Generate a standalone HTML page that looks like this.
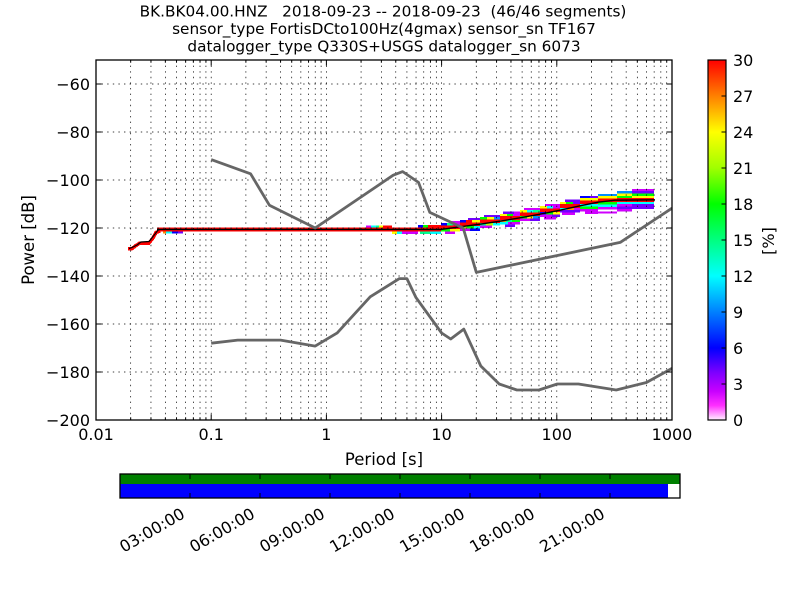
<!DOCTYPE html>
<html><head><meta charset="utf-8">
<style>
html,body{margin:0;padding:0;background:#fff;}
svg{display:block;font-family:"DejaVu Sans","Liberation Sans",sans-serif;}
</style></head>
<body>
<svg width="800" height="600" viewBox="0 0 800 600" xmlns="http://www.w3.org/2000/svg">
<defs>
<clipPath id="ax"><rect x="96" y="60" width="576" height="360"/></clipPath>
<linearGradient id="cb" x1="0" y1="0" x2="0" y2="1">
<stop offset="0" stop-color="#ff0000"/>
<stop offset="0.1" stop-color="#ff8000"/>
<stop offset="0.2" stop-color="#ffff00"/>
<stop offset="0.3" stop-color="#a0ff00"/>
<stop offset="0.4" stop-color="#00ff00"/>
<stop offset="0.5" stop-color="#00ff80"/>
<stop offset="0.6" stop-color="#00ffff"/>
<stop offset="0.7" stop-color="#0080ff"/>
<stop offset="0.8" stop-color="#0000ff"/>
<stop offset="0.87" stop-color="#8000ff"/>
<stop offset="0.92" stop-color="#c800ff"/>
<stop offset="0.96" stop-color="#ff30ff"/>
<stop offset="1" stop-color="#fff0ff"/>
</linearGradient>
</defs>
<rect width="800" height="600" fill="#fff"/>

<!-- Title -->
<g font-size="15.3" text-anchor="middle" fill="#000">
<text x="383" y="16.5" xml:space="preserve">BK.BK04.00.HNZ   2018-09-23 -- 2018-09-23  (46/46 segments)</text>
<text x="384" y="34">sensor_type FortisDCto100Hz(4gmax) sensor_sn TF167</text>
<text x="384" y="51.5">datalogger_type Q330S+USGS datalogger_sn 6073</text>
</g>

<!-- histogram -->
<g clip-path="url(#ax)" shape-rendering="crispEdges">
<!-- short period stair -->
<path d="M128,248.6 L132,248.6 L136,245.5 L140,243 L149,243 L153,238 L156,232.5 L160,231" fill="none" stroke="#ff0000" stroke-width="3.5"/>
<!-- main band -->
<rect x="157" y="227.4" width="284" height="4" fill="#ff0000"/>
<!-- small cells -->
<rect x="163" y="231.4" width="3" height="2" fill="#ff8c00"/>
<rect x="166" y="231.4" width="6" height="2" fill="#00ffff"/>
<rect x="172" y="231.4" width="6" height="2" fill="#0000ff"/>
<rect x="178" y="231.4" width="5" height="2" fill="#7000ff"/>
<rect x="366" y="225.6" width="5" height="2" fill="#d000ff"/>
<rect x="371" y="225.6" width="5" height="2" fill="#00ffff"/>
<rect x="376" y="225.6" width="3" height="2" fill="#00ff90"/>
<rect x="379" y="225.6" width="4" height="2" fill="#ffff00"/>
<rect x="383" y="225.6" width="9" height="2" fill="#ff0000"/>
<rect x="392" y="231.4" width="5" height="2.4" fill="#ffff00"/>
<rect x="397" y="231.4" width="5" height="2.4" fill="#00ffff"/>
<rect x="402" y="231.4" width="16" height="2.4" fill="#d000ff"/>
<rect x="418" y="225" width="5" height="2.4" fill="#0000ff"/>
<rect x="423" y="225" width="5" height="2.4" fill="#00ff00"/>
<rect x="428" y="225" width="13" height="2.4" fill="#ff0000"/>
<rect x="420" y="231.4" width="10" height="2.4" fill="#00ff90"/>
<rect x="430" y="231.4" width="11" height="2.4" fill="#00ffff"/>

<!-- Col A 441-460 -->
<rect x="441" y="225.6" width="19" height="3.6" fill="#ff0000"/>
<rect x="441" y="223.2" width="6" height="2.4" fill="#0000ff"/>
<rect x="447" y="223.2" width="6" height="2.4" fill="#00ff90"/>
<rect x="453" y="223.2" width="7" height="2.4" fill="#d000ff"/>
<rect x="450" y="220.8" width="10" height="2.4" fill="#d000ff"/>
<rect x="441" y="229.2" width="9" height="2.4" fill="#00ff00"/>
<rect x="450" y="229.2" width="10" height="2.4" fill="#ffff00"/>
<rect x="445" y="231.6" width="10" height="2.4" fill="#d000ff"/>
<!-- Col B 460-480 -->
<rect x="460" y="222.6" width="20" height="3.6" fill="#ff0000"/>
<rect x="460" y="220.2" width="6" height="2.4" fill="#0000ff"/>
<rect x="466" y="220.2" width="6" height="2.4" fill="#ff0000"/>
<rect x="472" y="220.2" width="8" height="2.4" fill="#ffff00"/>
<rect x="468" y="217.8" width="12" height="2.4" fill="#7000ff"/>
<rect x="460" y="226.2" width="7" height="2.4" fill="#b0ff00"/>
<rect x="467" y="226.2" width="7" height="2.4" fill="#00ff00"/>
<rect x="474" y="226.2" width="6" height="2.4" fill="#00ffff"/>
<rect x="460" y="228.6" width="10" height="2.4" fill="#d000ff"/>
<rect x="470" y="228.6" width="10" height="2.4" fill="#0000ff"/>
<!-- Col C 480-500 -->
<rect x="480" y="219.6" width="20" height="3.6" fill="#ff0000"/>
<rect x="480" y="217.2" width="7" height="2.4" fill="#00ff00"/>
<rect x="487" y="217.2" width="7" height="2.4" fill="#ffff00"/>
<rect x="494" y="217.2" width="6" height="2.4" fill="#0090ff"/>
<rect x="484" y="214.8" width="16" height="2.4" fill="#7000ff"/>
<rect x="480" y="223.2" width="6" height="2.4" fill="#00ff90"/>
<rect x="486" y="223.2" width="7" height="2.4" fill="#b0ff00"/>
<rect x="493" y="223.2" width="7" height="2.4" fill="#00ffff"/>
<rect x="480" y="225.6" width="12" height="2.4" fill="#d000ff"/>
<!-- Col D 500-520 -->
<rect x="500" y="216.2" width="20" height="3.6" fill="#ff0000"/>
<rect x="500" y="213.8" width="7" height="2.4" fill="#ffff00"/>
<rect x="507" y="213.8" width="6" height="2.4" fill="#00ff00"/>
<rect x="513" y="213.8" width="7" height="2.4" fill="#d000ff"/>
<rect x="503" y="211.4" width="11" height="2.4" fill="#7000ff"/>
<rect x="514" y="211.4" width="6" height="2.4" fill="#d000ff"/>
<rect x="500" y="219.8" width="6" height="2.4" fill="#ff8c00"/>
<rect x="506" y="219.8" width="6" height="2.4" fill="#00ff90"/>
<rect x="512" y="219.8" width="8" height="2.4" fill="#00ff00"/>
<rect x="500" y="222.2" width="8" height="2.4" fill="#00ffff"/>
<rect x="508" y="222.2" width="12" height="2.4" fill="#d000ff"/>
<rect x="505" y="224.6" width="10" height="2.4" fill="#7000ff"/>
<!-- Col E 520-540 -->
<rect x="520" y="212.6" width="20" height="3.6" fill="#ff0000"/>
<rect x="520" y="210.2" width="7" height="2.4" fill="#ffff00"/>
<rect x="527" y="210.2" width="6" height="2.4" fill="#00ffff"/>
<rect x="533" y="210.2" width="7" height="2.4" fill="#00ff90"/>
<rect x="524" y="207.8" width="16" height="2.4" fill="#d000ff"/>
<rect x="520" y="216.2" width="7" height="2.4" fill="#00ff00"/>
<rect x="527" y="216.2" width="6" height="2.4" fill="#ffff00"/>
<rect x="533" y="216.2" width="7" height="2.4" fill="#0090ff"/>
<rect x="520" y="218.6" width="10" height="2.4" fill="#d000ff"/>
<rect x="530" y="218.6" width="10" height="2.4" fill="#7000ff"/>
<!-- Col F 540-560 -->
<rect x="540" y="208.6" width="20" height="3.6" fill="#ff0000"/>
<rect x="540" y="206.2" width="7" height="2.4" fill="#ffff00"/>
<rect x="547" y="206.2" width="6" height="2.4" fill="#00ffff"/>
<rect x="553" y="206.2" width="7" height="2.4" fill="#d000ff"/>
<rect x="545" y="203.8" width="15" height="2.4" fill="#d000ff"/>
<rect x="540" y="212.2" width="6" height="2.4" fill="#0000ff"/>
<rect x="546" y="212.2" width="7" height="2.4" fill="#00ff00"/>
<rect x="553" y="212.2" width="7" height="2.4" fill="#ffff00"/>
<rect x="540" y="214.6" width="12" height="2.4" fill="#d000ff"/>
<rect x="552" y="214.6" width="8" height="2.4" fill="#7000ff"/>
<rect x="544" y="217" width="12" height="2.4" fill="#d000ff"/>
<!-- Col G 560-580 -->
<rect x="560" y="204.2" width="20" height="3.6" fill="#ff0000"/>
<rect x="560" y="201.8" width="6" height="2.4" fill="#ffff00"/>
<rect x="566" y="201.8" width="7" height="2.4" fill="#00ff00"/>
<rect x="573" y="201.8" width="7" height="2.4" fill="#7000ff"/>
<rect x="565" y="199.4" width="15" height="2.4" fill="#7000ff"/>
<rect x="560" y="207.8" width="7" height="2.4" fill="#00ffff"/>
<rect x="567" y="207.8" width="7" height="2.4" fill="#ff8c00"/>
<rect x="574" y="207.8" width="6" height="2.4" fill="#d000ff"/>
<rect x="560" y="210.2" width="20" height="2.4" fill="#7000ff"/>
<rect x="562" y="212.6" width="13" height="2.4" fill="#d000ff"/>
<!-- Col H 580-598 -->
<rect x="580" y="200.6" width="18" height="3.6" fill="#ff0000"/>
<rect x="580" y="198.2" width="18" height="2.4" fill="#ffff00"/>
<rect x="580" y="195.8" width="10" height="2.4" fill="#0000ff"/>
<rect x="590" y="195.8" width="8" height="2.4" fill="#7000ff"/>
<rect x="580" y="204.2" width="18" height="2.4" fill="#00ffff"/>
<rect x="580" y="206.6" width="18" height="2.4" fill="#00ff00"/>
<rect x="580" y="209" width="18" height="2.4" fill="#d000ff"/>
<rect x="585" y="211.4" width="13" height="2.4" fill="#d000ff"/>
<!-- Col I 598-617 -->
<rect x="598" y="198.6" width="19" height="3.6" fill="#ff0000"/>
<rect x="598" y="196.2" width="19" height="2.4" fill="#ffff00"/>
<rect x="598" y="193.8" width="19" height="2.4" fill="#0090ff"/>
<rect x="598" y="202.2" width="19" height="2.4" fill="#00ff00"/>
<rect x="598" y="204.6" width="19" height="2.4" fill="#00ffff"/>
<rect x="598" y="207" width="19" height="2.4" fill="#d000ff"/>
<rect x="598" y="211.4" width="19" height="2" fill="#d000ff"/>
<!-- Col J 617-632 -->
<rect x="617" y="198.2" width="15" height="3.6" fill="#ff0000"/>
<rect x="617" y="195.8" width="15" height="2.4" fill="#00ff00"/>
<rect x="617" y="193.4" width="15" height="2.4" fill="#ffff00"/>
<rect x="617" y="191" width="15" height="2.4" fill="#0090ff"/>
<rect x="617" y="201.8" width="15" height="2.4" fill="#00ffff"/>
<rect x="617" y="204.2" width="15" height="2.4" fill="#d000ff"/>
<rect x="617" y="206.6" width="15" height="2.4" fill="#7000ff"/>
<rect x="617" y="209" width="15" height="2.4" fill="#d000ff"/>
<!-- Col K 632-654 -->
<rect x="632" y="198.2" width="22" height="3.6" fill="#ff0000"/>
<rect x="632" y="195.8" width="22" height="2.4" fill="#ffff00"/>
<rect x="632" y="193.4" width="22" height="2.4" fill="#00ff00"/>
<rect x="632" y="191" width="22" height="2.4" fill="#7000ff"/>
<rect x="632" y="189" width="22" height="2" fill="#d000ff"/>
<rect x="632" y="201.8" width="22" height="2.4" fill="#00ffff"/>
<rect x="632" y="204.2" width="22" height="2.4" fill="#7000ff"/>
<rect x="632" y="206.6" width="22" height="2.4" fill="#7000ff"/>
</g>

<!-- grid -->
<g stroke="#000" stroke-width="0.7" stroke-dasharray="1.4 4.2" fill="none">
<path d="M130.68,60V420M150.96,60V420M165.36,60V420M176.52,60V420M185.64,60V420M193.35,60V420M200.03,60V420M205.92,60V420M211.2,60V420
M245.88,60V420M266.16,60V420M280.56,60V420M291.72,60V420M300.84,60V420M308.55,60V420M315.23,60V420M321.12,60V420M326.4,60V420
M361.08,60V420M381.36,60V420M395.76,60V420M406.92,60V420M416.04,60V420M423.75,60V420M430.43,60V420M436.32,60V420M441.6,60V420
M476.28,60V420M496.56,60V420M510.96,60V420M522.12,60V420M531.24,60V420M538.95,60V420M545.63,60V420M551.52,60V420M556.8,60V420
M591.48,60V420M611.76,60V420M626.16,60V420M637.32,60V420M646.44,60V420M654.15,60V420M660.83,60V420M666.72,60V420"/>
<path d="M96,84H672M96,132H672M96,180H672M96,228H672M96,276H672M96,324H672M96,372H672"/>
</g>

<!-- mode line -->
<g clip-path="url(#ax)" fill="none" stroke="#000">
<path d="M129,248.6 L132,247.5 L137,245 L141,242 L149,241.5 L155,234 L158,230 L160,229.4" stroke-width="1.2"/>
<path d="M157,229.4 L441,229.4 L460,226.8 L480,224.2 L500,221.2 L520,217.8 L540,214.2 L560,210.2 L580,205.8 L598,202.2 L615,200.2 L655,199.8" stroke-width="1.4"/>
</g>

<!-- noise models -->
<g clip-path="url(#ax)" fill="none" stroke="#666666" stroke-width="2.8" stroke-linejoin="round">
<polyline points="211.2,159.6 250.6,173.8 269.4,205.2 315.2,228 393.2,175.2 402.7,171.6 418.5,182.4 429.8,212.4 463.2,228 476.3,272.4 620.2,242.4 672,208.2"/>
<polyline points="211.2,343.2 237.7,340.1 280.6,340.1 315.2,346.1 337.2,332.9 370.2,296.8 399.4,278.6 406.9,278.6 416,297.6 441.6,333 450.7,339 463.8,329.1 480.8,366 499.2,384 516.9,390 538.9,390 557.3,384 578.4,384 616.2,390 646.4,382.5 672,368.4"/>
</g>

<!-- axes frame & ticks -->
<rect x="96" y="60" width="576" height="360" fill="none" stroke="#000" stroke-width="1.3"/>
<g stroke="#000" stroke-width="1" fill="none">
<path d="M96,84h5.6M96,132h5.6M96,180h5.6M96,228h5.6M96,276h5.6M96,324h5.6M96,372h5.6
M672,84h-5.6M672,132h-5.6M672,180h-5.6M672,228h-5.6M672,276h-5.6M672,324h-5.6M672,372h-5.6
M211.2,420v-5.6M326.4,420v-5.6M441.6,420v-5.6M556.8,420v-5.6
M211.2,60v5.6M326.4,60v5.6M441.6,60v5.6M556.8,60v5.6"/>
<path d="M130.68,420v-2.8M150.96,420v-2.8M165.36,420v-2.8M176.52,420v-2.8M185.64,420v-2.8M193.35,420v-2.8M200.03,420v-2.8M205.92,420v-2.8
M245.88,420v-2.8M266.16,420v-2.8M280.56,420v-2.8M291.72,420v-2.8M300.84,420v-2.8M308.55,420v-2.8M315.23,420v-2.8M321.12,420v-2.8
M361.08,420v-2.8M381.36,420v-2.8M395.76,420v-2.8M406.92,420v-2.8M416.04,420v-2.8M423.75,420v-2.8M430.43,420v-2.8M436.32,420v-2.8
M476.28,420v-2.8M496.56,420v-2.8M510.96,420v-2.8M522.12,420v-2.8M531.24,420v-2.8M538.95,420v-2.8M545.63,420v-2.8M551.52,420v-2.8
M591.48,420v-2.8M611.76,420v-2.8M626.16,420v-2.8M637.32,420v-2.8M646.44,420v-2.8M654.15,420v-2.8M660.83,420v-2.8M666.72,420v-2.8
M130.68,60v2.8M150.96,60v2.8M165.36,60v2.8M176.52,60v2.8M185.64,60v2.8M193.35,60v2.8M200.03,60v2.8M205.92,60v2.8
M245.88,60v2.8M266.16,60v2.8M280.56,60v2.8M291.72,60v2.8M300.84,60v2.8M308.55,60v2.8M315.23,60v2.8M321.12,60v2.8
M361.08,60v2.8M381.36,60v2.8M395.76,60v2.8M406.92,60v2.8M416.04,60v2.8M423.75,60v2.8M430.43,60v2.8M436.32,60v2.8
M476.28,60v2.8M496.56,60v2.8M510.96,60v2.8M522.12,60v2.8M531.24,60v2.8M538.95,60v2.8M545.63,60v2.8M551.52,60v2.8
M591.48,60v2.8M611.76,60v2.8M626.16,60v2.8M637.32,60v2.8M646.44,60v2.8M654.15,60v2.8M660.83,60v2.8M666.72,60v2.8"/>
</g>

<!-- y tick labels -->
<g font-size="16" text-anchor="end" fill="#000">
<text x="90" y="89.8">−60</text>
<text x="90" y="137.8">−80</text>
<text x="90" y="185.8">−100</text>
<text x="90" y="233.8">−120</text>
<text x="90" y="281.8">−140</text>
<text x="90" y="329.8">−160</text>
<text x="90" y="377.8">−180</text>
<text x="90" y="425.8">−200</text>
</g>
<!-- x tick labels -->
<g font-size="16" text-anchor="middle" fill="#000">
<text x="96" y="440">0.01</text>
<text x="211.2" y="440">0.1</text>
<text x="326.4" y="440">1</text>
<text x="441.6" y="440">10</text>
<text x="556.8" y="440">100</text>
<text x="672" y="440">1000</text>
</g>
<text x="384" y="465" font-size="16.5" text-anchor="middle">Period [s]</text>
<text transform="translate(34,240) rotate(-90)" font-size="16.5" text-anchor="middle">Power [dB]</text>

<!-- colorbar -->
<rect x="708" y="60" width="18" height="360" fill="url(#cb)" stroke="#000" stroke-width="1.2"/>
<g stroke="#000" stroke-width="1">
<path d="M726,96h-4.5M726,132h-4.5M726,168h-4.5M726,204h-4.5M726,240h-4.5M726,276h-4.5M726,312h-4.5M726,348h-4.5M726,384h-4.5"/>
</g>
<g font-size="16" fill="#000">
<text x="733" y="65.8">30</text>
<text x="733" y="101.8">27</text>
<text x="733" y="137.8">24</text>
<text x="733" y="173.8">21</text>
<text x="733" y="209.8">18</text>
<text x="733" y="245.8">15</text>
<text x="733" y="281.8">12</text>
<text x="733" y="317.8">9</text>
<text x="733" y="353.8">6</text>
<text x="733" y="389.8">3</text>
<text x="733" y="425.8">0</text>
</g>
<text transform="translate(774,241) rotate(-90)" font-size="16" text-anchor="middle">[%]</text>

<!-- timeline -->
<rect x="120" y="474" width="560" height="10" fill="#008000"/>
<rect x="120" y="484" width="548" height="14" fill="#0000ff"/>
<rect x="668" y="484" width="12" height="14" fill="#ffffff"/>
<rect x="120" y="474" width="560" height="24" fill="none" stroke="#000" stroke-width="1.3"/>
<g stroke="#000" stroke-width="1">
<path d="M190,474v5M260,474v5M330,474v5M400,474v5M470,474v5M540,474v5M610,474v5
M190,498v-5M260,498v-5M330,498v-5M400,498v-5M470,498v-5M540,498v-5M610,498v-5"/>
</g>
<g font-size="16" text-anchor="end" fill="#000">
<text transform="translate(186,517) rotate(-30)">03:00:00</text>
<text transform="translate(256,517) rotate(-30)">06:00:00</text>
<text transform="translate(326,517) rotate(-30)">09:00:00</text>
<text transform="translate(396,517) rotate(-30)">12:00:00</text>
<text transform="translate(466,517) rotate(-30)">15:00:00</text>
<text transform="translate(536,517) rotate(-30)">18:00:00</text>
<text transform="translate(606,517) rotate(-30)">21:00:00</text>
</g>
</svg>
</body></html>
